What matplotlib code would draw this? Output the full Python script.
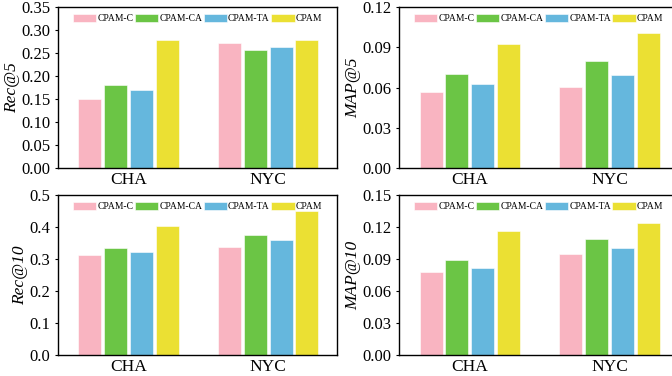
import matplotlib.pyplot as plt
import numpy as np

plt.rcParams['font.family'] = ['Liberation Serif', 'DejaVu Serif']

cities = ["CHA", "NYC"]
models = ["CPAM-C", "CPAM-CA", "CPAM-TA", "CPAM"]
colors = ["#F9B4C1", "#6BC545", "#65B7DD", "#EBE033"]

# values per model: [CHA, NYC]
rec5 = [[0.150, 0.272], [0.181, 0.257], [0.170, 0.263], [0.279, 0.278]]
map5 = [[0.0566, 0.0604], [0.0701, 0.0798], [0.0626, 0.0694], [0.0923, 0.101]]
rec10 = [[0.313, 0.339], [0.334, 0.374], [0.323, 0.360], [0.402, 0.450]]
map10 = [[0.0778, 0.0944], [0.0894, 0.109], [0.0813, 0.1006], [0.1166, 0.124]]

panels = [
    (rec5, "Rec@5", np.arange(0, 0.351, 0.05), "%.2f", [0.0863, 0.553, 0.415, 0.428]),
    (map5, "MAP@5", np.arange(0, 0.121, 0.03), "%.2f", [0.594, 0.553, 0.415, 0.428]),
    (rec10, "Rec@10", np.arange(0, 0.51, 0.1), "%.1f", [0.0863, 0.056, 0.415, 0.425]),
    (map10, "MAP@10", np.arange(0, 0.151, 0.03), "%.2f", [0.594, 0.056, 0.415, 0.425]),
]

fig = plt.figure(figsize=(6.72, 3.76), dpi=100)
x = np.arange(len(cities))
pitch = 0.184
width = 0.165

for data, ylabel, yticks, fmt, pos in panels:
    ax = fig.add_axes(pos)
    for i, (m, c) in enumerate(zip(models, colors)):
        ax.bar(x + (i - 1.5) * pitch, data[i], width=width, color=c, label=m,
               edgecolor="#ffffff", linewidth=0.4)
    ax.set_xlim(-0.504, 1.49)
    ax.set_ylim(yticks[0], yticks[-1])
    ax.set_yticks(yticks)
    ax.set_yticklabels([fmt % v for v in yticks], fontsize=12)
    ax.set_xticks(x)
    ax.set_xticklabels(cities, fontsize=12.5)
    ax.tick_params(axis="x", length=0, pad=3)
    ax.tick_params(axis="y", length=2.5, width=0.8, pad=3)
    ax.set_ylabel(ylabel, fontsize=12.5, style="italic", labelpad=1)
    for s in ax.spines.values():
        s.set_linewidth(1.0)
    ax.legend(loc="upper center", bbox_to_anchor=(0.5, 1.0), ncol=4, frameon=False,
              fontsize=6.9, handlelength=2.45, handleheight=0.93, handletextpad=0.1,
              columnspacing=0.15, borderaxespad=0.3)

fig.savefig("out.png", dpi=100)
